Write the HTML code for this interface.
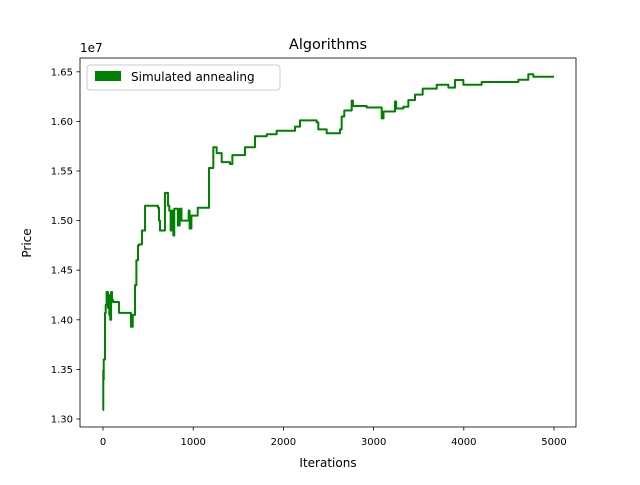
<!DOCTYPE html>
<html><head><meta charset="utf-8"><style>
body{margin:0;background:#fff;font-family:"Liberation Sans","DejaVu Sans",sans-serif}
svg text{font-family:"DejaVu Sans","Liberation Sans",sans-serif;fill:#000}
</style></head><body>
<svg id="c" width="640" height="480" xmlns="http://www.w3.org/2000/svg">
<rect width="640" height="480" fill="#fff"/>
<text x="328" y="49" font-size="14.4" text-anchor="middle">Algorithms</text>
<text x="328" y="467" font-size="12" text-anchor="middle">Iterations</text>
<text transform="translate(31,243) rotate(-90)" font-size="12" text-anchor="middle">Price</text>
<text x="80" y="52" font-size="12">1e7</text>
<g id="ticks"></g>
<polyline id="line" fill="none" stroke="#008000" stroke-width="2" stroke-linejoin="round"/>
<rect x="80" y="58" width="496" height="369" fill="none" stroke="#000" stroke-width="0.8"/>
<g>
<rect x="87" y="65" width="193" height="25" rx="3" fill="#fff" fill-opacity="0.8" stroke="#ccc"/>
<rect x="95" y="71" width="26" height="10" fill="#008000"/>
<text x="131" y="81" font-size="12">Simulated annealing</text>
</g>
</svg>
<script>
const xTicks=[0,1000,2000,3000,4000,5000];
const yTicks=[1.30,1.35,1.40,1.45,1.50,1.55,1.60,1.65];
const iters=[0,3,5,8,22,30,40,55,60,70,80,90,100,111,120,130,150,177,188,299,310,330,344,355,370,388,400,432,466,610,621,632,687,721,735,750,765,780,790,800,830,850,870,900,950,960,980,1000,1050,1131,1175,1179,1223,1260,1316,1408,1434,1574,1685,1815,1925,2129,2184,2369,2387,2470,2480,2627,2646,2675,2757,2770,2923,3090,3110,3237,3250,3330,3385,3459,3544,3700,3829,3902,3995,4198,4605,4715,4771,5000];
const prices=[1.309,1.349,1.340,1.360,1.407,1.415,1.428,1.412,1.425,1.405,1.400,1.428,1.420,1.418,1.418,1.418,1.418,1.407,1.407,1.407,1.393,1.405,1.405,1.435,1.460,1.475,1.476,1.490,1.515,1.513,1.500,1.490,1.528,1.515,1.510,1.490,1.510,1.485,1.512,1.512,1.495,1.512,1.500,1.500,1.510,1.492,1.505,1.505,1.513,1.513,1.553,1.553,1.574,1.568,1.559,1.557,1.566,1.574,1.585,1.587,1.5906,1.5947,1.601,1.599,1.592,1.592,1.588,1.592,1.605,1.611,1.621,1.6155,1.614,1.603,1.610,1.620,1.613,1.6148,1.6215,1.627,1.633,1.637,1.634,1.6417,1.637,1.6397,1.642,1.6475,1.645,1.645];
const X=v=>103+v*0.0902, Y=v=>419-(v-1.30)*992;
const tg=document.getElementById('ticks'),NS='http://www.w3.org/2000/svg';
xTicks.forEach(t=>{const l=document.createElementNS(NS,'line');l.setAttribute('x1',X(t));l.setAttribute('x2',X(t));l.setAttribute('y1',427);l.setAttribute('y2',430.5);l.setAttribute('stroke','#000');l.setAttribute('stroke-width','0.8');


tg.appendChild(l);const s=document.createElementNS(NS,'text');s.setAttribute('x',X(t));s.setAttribute('y',445);s.setAttribute('font-size','10');s.setAttribute('text-anchor','middle');s.textContent=t;


tg.appendChild(s);});
yTicks.forEach(t=>{const l=document.createElementNS(NS,'line');l.setAttribute('x1',76.5);l.setAttribute('x2',80);l.setAttribute('y1',Y(t));l.setAttribute('y2',Y(t));l.setAttribute('stroke','#000');l.setAttribute('stroke-width','0.8');


tg.appendChild(l);const s=document.createElementNS(NS,'text');s.setAttribute('x',73);s.setAttribute('y',Y(t)+3.5);s.setAttribute('font-size','10');s.setAttribute('text-anchor','end');s.textContent=t.toFixed(2);


tg.appendChild(s);});
let pts=[];for(let i=0;i<iters.length;i++){if(i>0)pts.push(X(iters[i])+','+Y(prices[i-1]));pts.push(X(iters[i])+','+Y(prices[i]));}
document.getElementById('line').setAttribute('points',pts.join(' '));
</script>
</body></html>
